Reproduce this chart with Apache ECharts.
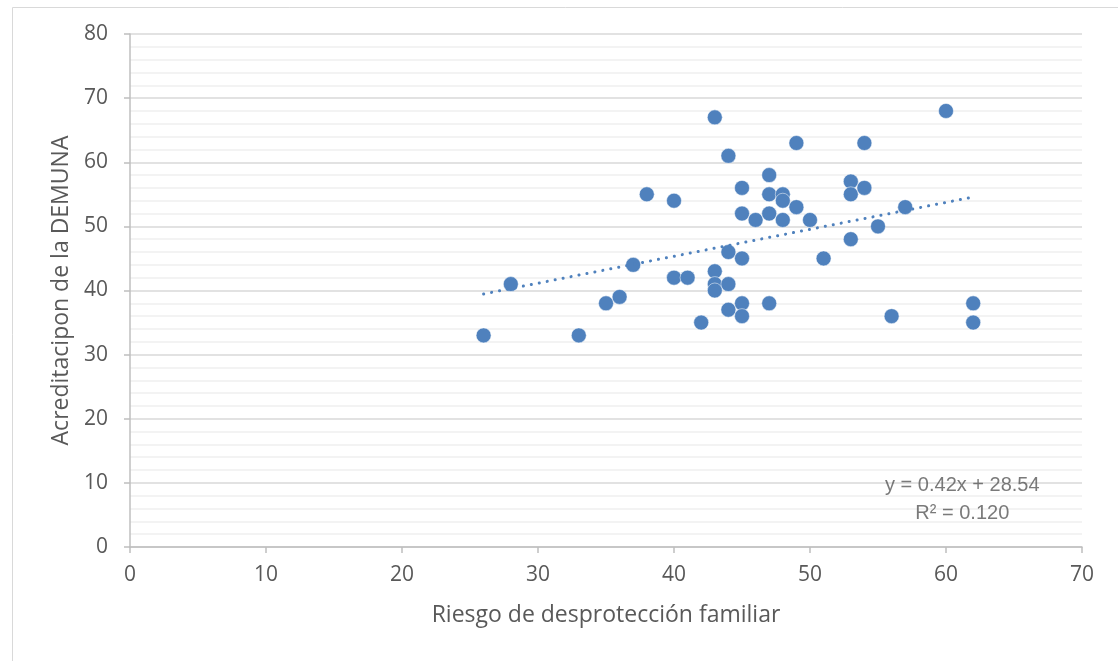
<!DOCTYPE html>
<html>
<head>
<meta charset="utf-8">
<script src="https://cdn.jsdelivr.net/npm/echarts@6/dist/echarts.min.js"></script>
<style>
html,body{margin:0;padding:0;background:#fff;}
#chart{width:1118px;height:661px;}
</style>
</head>
<body>
<div id="chart"></div>
<script>
var riesgo = [26,28,33,35,36,37,38,40,40,41,42,43,43,43,43,44,44,44,44,45,45,45,45,45,46,47,47,47,47,48,48,48,49,49,50,51,53,53,53,54,54,55,56,57,60,62,62];
var acreditacion = [33,41,33,38,39,44,55,54,42,42,35,67,43,41,40,61,46,41,37,56,52,45,38,36,51,58,55,52,38,55,54,51,63,53,51,45,57,55,48,63,56,50,36,53,68,38,35];
var trendSlope = 0.42;
var trendIntercept = 28.54;
var trendLabel = ['y = 0.42x + 28.54', 'R² = 0.120'];
var xTitle = 'Riesgo de desprotección familiar';
var yTitle = 'Acreditacipon de la DEMUNA';

var points = riesgo.map(function(v, i){ return [v, acreditacion[i]]; });
var xMin = Math.min.apply(null, riesgo), xMax = Math.max.apply(null, riesgo);
var trend = [[xMin, trendSlope*xMin + trendIntercept], [xMax, trendSlope*xMax + trendIntercept]];

var font = '"Open Sans", sans-serif';
var eqFont = '"Liberation Sans", Arial, sans-serif';
var chart = echarts.init(document.getElementById('chart'));
chart.setOption({
  animation: false,
  graphic: [{
    type: 'rect', left: 10, top: 5, shape: {width: 1200, height: 700},
    style: {fill: 'none', stroke: '#d9d9d9', lineWidth: 1}, silent: true
  }],
  grid: {left: 130, right: 36, top: 34, bottom: 114},
  xAxis: {
    type: 'value', min: 0, max: 70, interval: 10,
    name: xTitle, nameLocation: 'middle', nameGap: 57,
    nameTextStyle: {fontFamily: font, fontSize: 23, color: '#595959'},
    axisLine: {show: true, onZero: false, lineStyle: {color: '#bfbfbf', width: 1.5}},
    axisTick: {show: true, length: 6, lineStyle: {color: '#bfbfbf', width: 1.5}},
    axisLabel: {margin: 18, fontFamily: font, fontSize: 21, color: '#595959'},
    splitLine: {show: false}
  },
  yAxis: {
    type: 'value', min: 0, max: 80, interval: 10,
    name: yTitle, nameLocation: 'middle', nameGap: 55, nameRotate: 90,
    nameTextStyle: {fontFamily: font, fontSize: 23, color: '#595959'},
    axisLine: {show: true, lineStyle: {color: '#bfbfbf', width: 1.5}},
    axisTick: {show: true, length: 6, lineStyle: {color: '#bfbfbf', width: 1.5}},
    axisLabel: {margin: 22, fontFamily: font, fontSize: 21, color: '#595959'},
    splitLine: {show: true, lineStyle: {color: '#d9d9d9', width: 1.5}},
    minorTick: {show: false, splitNumber: 5},
    minorSplitLine: {show: true, lineStyle: {color: '#f0f0f0', width: 1.5}}
  },
  series: [{
    type: 'line', data: trend, showSymbol: false, symbol: 'none', silent: true,
    lineStyle: {color: '#4f81bd', width: 3, type: [0.1, 8], cap: 'round'},
    z: 3
  }, {
    type: 'scatter', data: points, symbol: 'circle', symbolSize: 15,
    itemStyle: {color: '#4f81bd', opacity: 1, borderColor: '#ffffff', borderWidth: 0.5},
    z: 2
  }, {
    type: 'scatter', data: [[61.2, 7.45]], symbolSize: 0, silent: true,
    label: {show: true, position: 'inside', formatter: trendLabel.join('\n'),
      fontFamily: eqFont, fontSize: 20, color: '#595959', lineHeight: 28, align: 'center'}
  }]
});
</script>
</body>
</html>
